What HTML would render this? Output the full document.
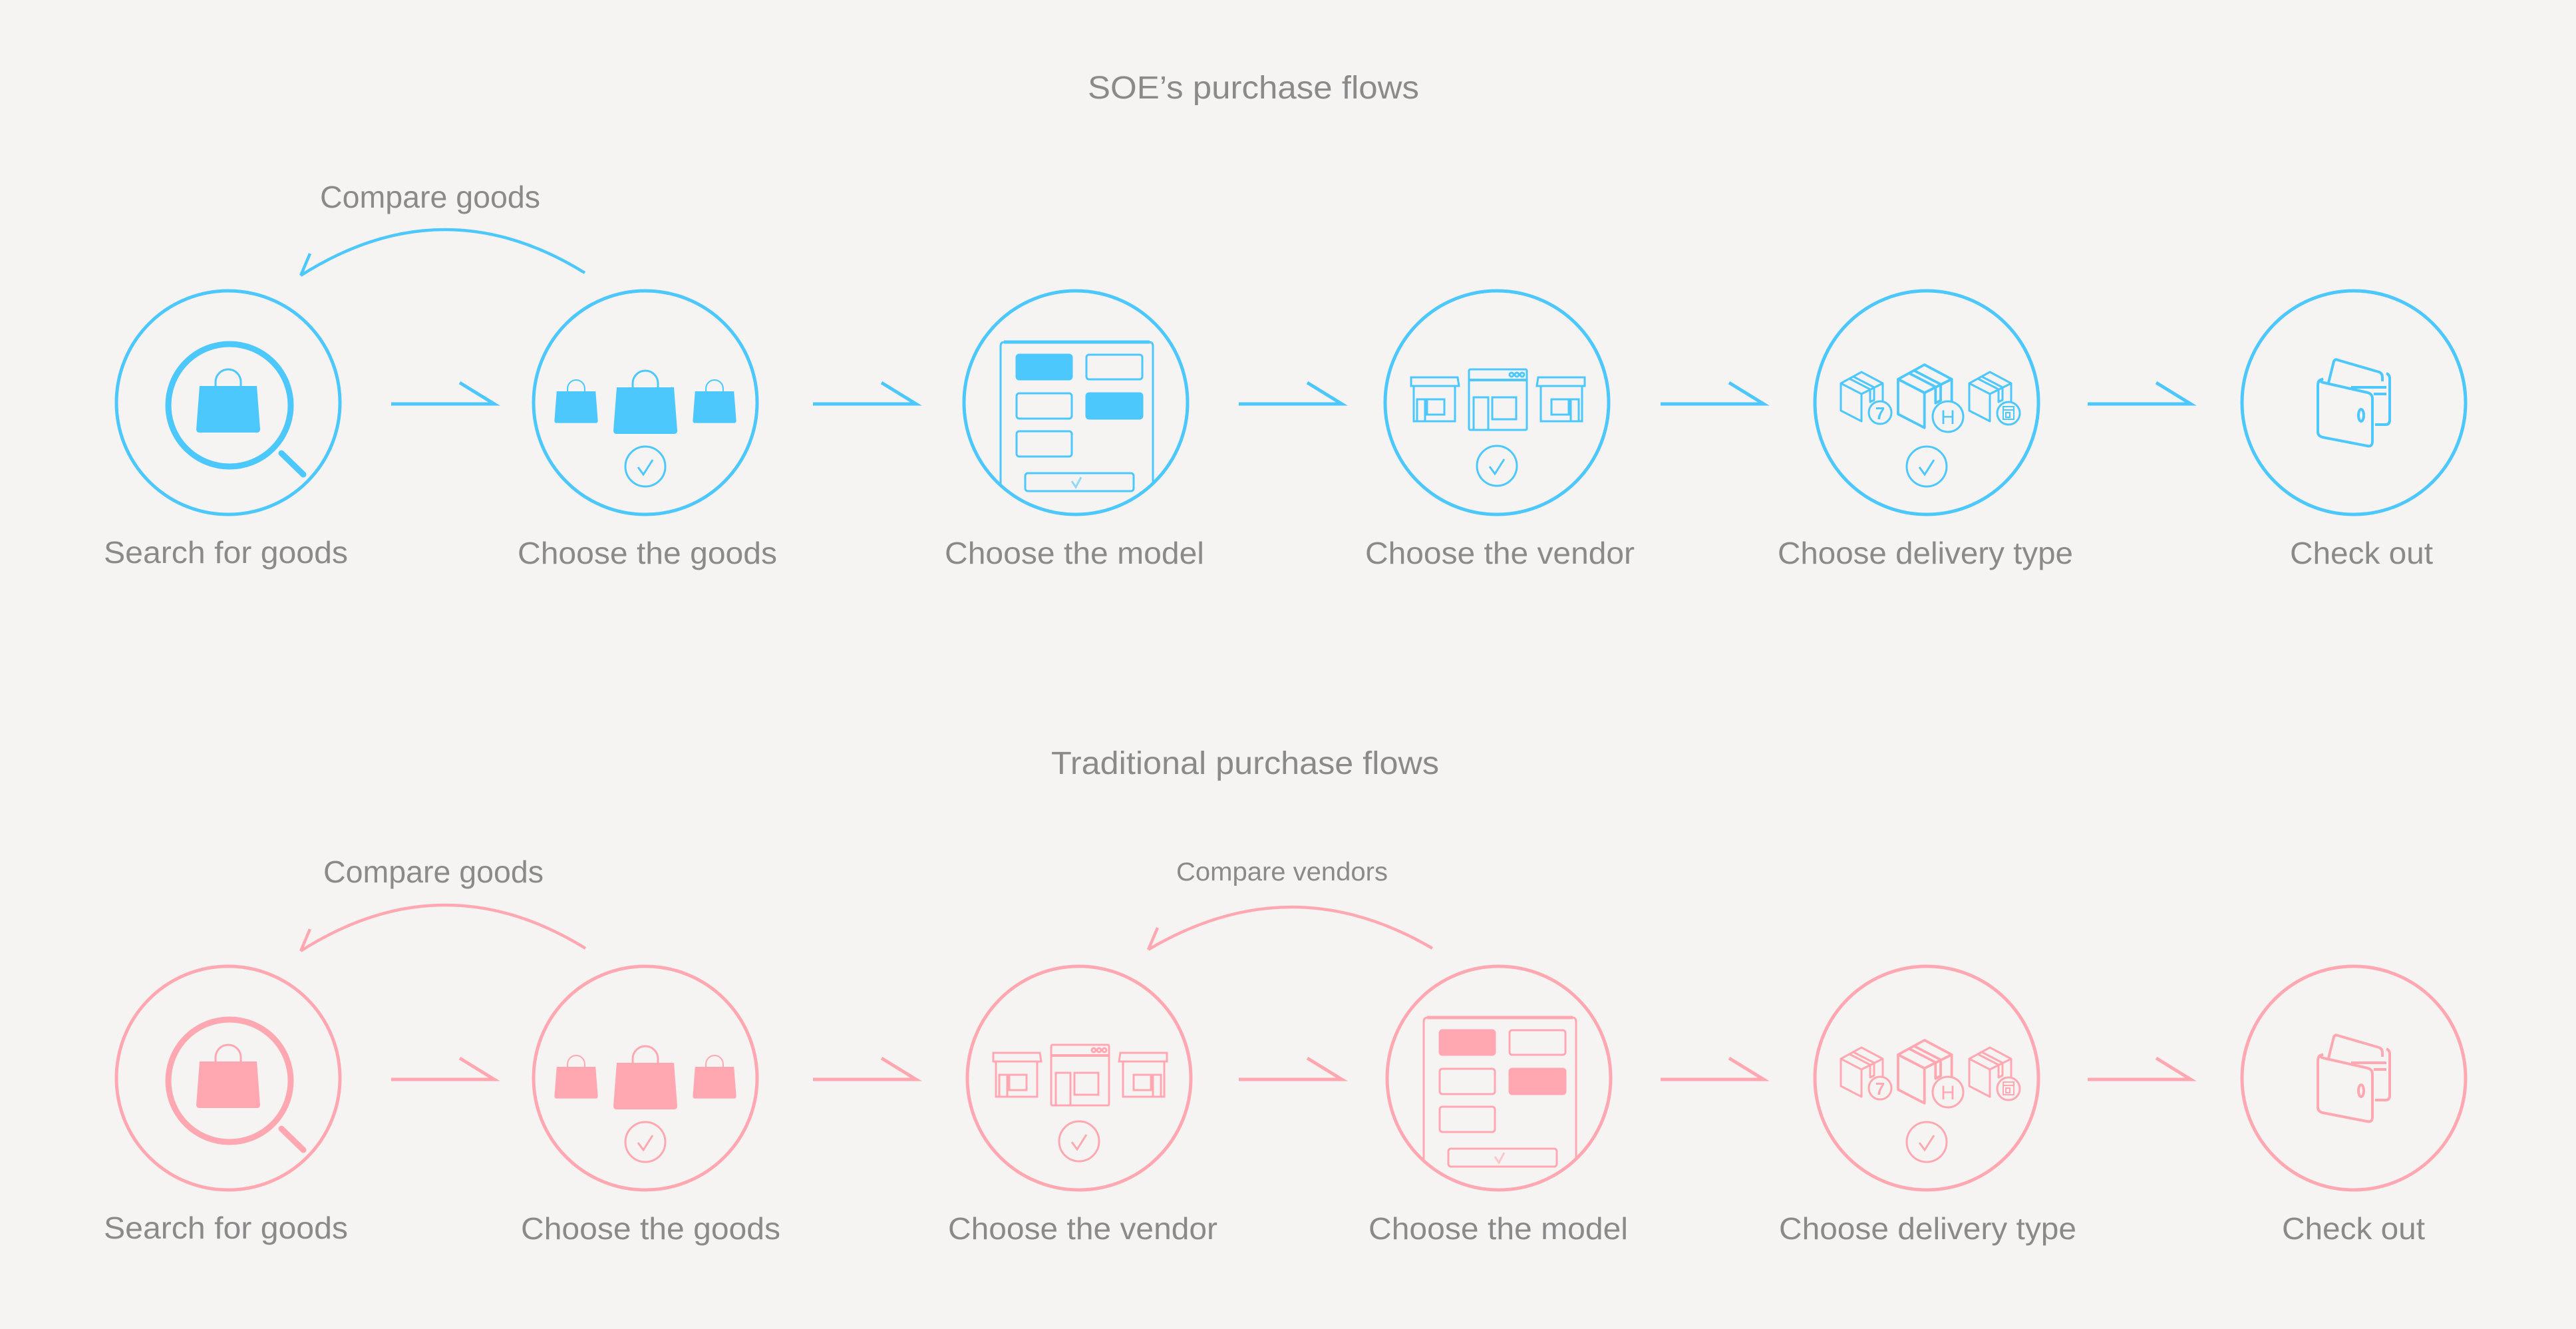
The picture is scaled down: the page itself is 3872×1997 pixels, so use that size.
<!DOCTYPE html>
<html><head><meta charset="utf-8"><style>
html,body{margin:0;padding:0;background:#f5f4f2;}
svg{display:block;}
text{font-family:"Liberation Sans",sans-serif;fill:#8a8a8a;}
</style></head><body>
<svg width="3872" height="1997" viewBox="0 0 3872 1997" xmlns="http://www.w3.org/2000/svg">
<defs>
<clipPath id="cc"><circle cx="0" cy="0" r="166"/></clipPath>
<g id="bag">
 <path d="M-43 0 H43 L48 65 Q48 70 43 70 H-43 Q-48 70 -48 65 Z" fill="currentColor" stroke="none"/>
 <path d="M-19 1 V-6 A19 19 0 0 1 19 -6 V1" fill="none" stroke="currentColor" stroke-width="3"/>
</g>
<g id="chk" fill="none" stroke="currentColor" stroke-width="3">
 <circle cx="0" cy="0" r="30"/>
 <path d="M-11 1 L-3 12 L11 -10"/>
</g>
<g id="search">
 <circle cx="0" cy="0" r="168" fill="none" stroke="currentColor" stroke-width="5"/>
 <circle cx="2" cy="4" r="92" fill="none" stroke="currentColor" stroke-width="9"/>
 <path d="M80 76 L113 108" stroke="currentColor" stroke-width="9" stroke-linecap="round"/>
 <use href="#bag" transform="translate(0,-25)"/>
</g>
<g id="goods">
 <circle cx="0" cy="0" r="168" fill="none" stroke="currentColor" stroke-width="5"/>
 <use href="#bag" transform="translate(0,-23)"/>
 <use href="#bag" transform="translate(-104,-17) scale(0.68)"/>
 <use href="#bag" transform="translate(104,-17) scale(0.68)"/>
 <use href="#chk" transform="translate(0,96)"/>
</g>
<g id="model">
 <circle cx="0" cy="0" r="168" fill="none" stroke="currentColor" stroke-width="5"/>
 <g clip-path="url(#cc)" fill="none" stroke="currentColor" stroke-width="3">
  <path d="M-113 170 V-85 Q-113 -91 -107 -91 H110 Q116 -91 116 -85 V170"/>
  <path d="M-108 -91 H111" stroke-width="5"/>
 </g>
 <g stroke="currentColor" stroke-width="3">
  <rect x="-89" y="-72" width="83" height="37" rx="4" fill="currentColor"/>
  <rect x="16" y="-72" width="84" height="37" rx="4" fill="none"/>
  <rect x="-89" y="-14" width="83" height="38" rx="4" fill="none"/>
  <rect x="16" y="-14" width="84" height="38" rx="4" fill="currentColor"/>
  <rect x="-89" y="43" width="83" height="38" rx="4" fill="none"/>
  <rect x="-76" y="106" width="163" height="27" rx="4" fill="none"/>
  <path d="M-6 118 L0 127 L8 112" fill="none" opacity="0.6"/>
 </g>
</g>
<g id="shop" fill="none" stroke="currentColor" stroke-width="3">
 <path d="M-36 -38 H34 L36 -25 H-36 Z"/>
 <path d="M-32 -25 V28 H30 V-25"/>
 <rect x="-27" y="-5" width="12" height="33"/>
 <rect x="-12" y="-5" width="26" height="23"/>
</g>
<g id="vendor">
 <circle cx="0" cy="0" r="168" fill="none" stroke="currentColor" stroke-width="5"/>
 <use href="#shop" transform="translate(-93,0)"/>
 <use href="#shop" transform="translate(96,0) scale(-1,1)"/>
 <g fill="none" stroke="currentColor" stroke-width="3">
  <rect x="-42" y="-50" width="87" height="91" rx="2"/>
  <path d="M-42 -34 H45" stroke-width="4"/>
  <circle cx="22" cy="-42" r="3"/><circle cx="30" cy="-42" r="3"/><circle cx="38" cy="-42" r="3"/>
  <rect x="-35" y="-8" width="22" height="49"/>
  <rect x="-7" y="-8" width="36" height="33"/>
 </g>
 <use href="#chk" transform="translate(0,95)"/>
</g>
<g id="box" fill="none" stroke="currentColor" stroke-width="3" stroke-linejoin="round">
 <path d="M31 0 L0 17 L31 33 L63 17 Z"/>
 <path d="M0 17 V58 L31 74 V33"/>
 <path d="M63 17 V56"/>
 <path d="M13 10 L44 26 M19 7 L50 23"/>
 <path d="M44 26 V45 L50 42 V23"/>
</g>
<g id="delivery">
 <circle cx="0" cy="0" r="168" fill="none" stroke="currentColor" stroke-width="5"/>
 <use href="#box" transform="translate(-129,-46)"/>
 <use href="#box" transform="translate(-43,-57) scale(1.28)"/>
 <use href="#box" transform="translate(64,-46)"/>
 <g fill="#f5f4f2" stroke="currentColor" stroke-width="3">
  <circle cx="-70" cy="15" r="17"/>
  <circle cx="32" cy="21" r="23"/>
  <circle cx="123" cy="16" r="17"/>
 </g>
 <text x="-70" y="25" text-anchor="middle" font-size="26" font-weight="bold" style="fill:currentColor">7</text>
 <text x="32" y="32" text-anchor="middle" font-size="30" style="fill:currentColor">H</text>
 <g fill="none" stroke="currentColor" stroke-width="2">
  <rect x="115" y="6" width="16" height="19"/><path d="M115 11 H131"/><rect x="119" y="15" width="6" height="7"/>
 </g>
 <use href="#chk" transform="translate(0,96)"/>
</g>
<g id="wallet">
 <circle cx="0" cy="0" r="168" fill="none" stroke="currentColor" stroke-width="5"/>
 <g fill="none" stroke="currentColor" stroke-width="4" stroke-linejoin="round">
  <path d="M-38 -30 L-30 -62 Q-28 -66 -24 -64 L38 -46 Q43 -44 43 -38 V-32"/>
  <path d="M49 -44 Q54 -42 54 -36 V26 Q54 33 48 33 H32"/>
  <path d="M-4 -23 H49 M30 -13 H49"/>
  <path d="M-46 -35 Q-54 -35 -54 -26 V44 Q-54 50 -47 52 L20 65 Q28 67 28 58 V-6 Q28 -13 21 -15 L-45 -30 Q-54 -32 -46 -36"/>
  <ellipse cx="11" cy="19" rx="4" ry="9"/>
 </g>
</g>
<g id="arrow" fill="none" stroke="currentColor" stroke-width="5">
 <path d="M0 0 H155 L103 -32"/>
</g>
</defs>

<!-- titles -->
<text x="1635" y="148" font-size="48" textLength="498" lengthAdjust="spacingAndGlyphs">SOE’s purchase flows</text>
<text x="1580" y="1163" font-size="48" textLength="583" lengthAdjust="spacingAndGlyphs">Traditional purchase flows</text>

<!-- TOP ROW -->
<g style="color:#4cc8fc">
 <use href="#search" transform="translate(343,605)"/>
 <use href="#goods" transform="translate(970,605)"/>
 <use href="#model" transform="translate(1617,605)"/>
 <use href="#vendor" transform="translate(2250,605)"/>
 <use href="#delivery" transform="translate(2896,605)"/>
 <use href="#wallet" transform="translate(3538,605)"/>
 <use href="#arrow" transform="translate(588,607)"/>
 <use href="#arrow" transform="translate(1222,607)"/>
 <use href="#arrow" transform="translate(1862,607)"/>
 <use href="#arrow" transform="translate(2496,607)"/>
 <use href="#arrow" transform="translate(3138,607)"/>
 <path d="M879 410 Q666 278 452 414 M452 414 L466 381" fill="none" stroke="currentColor" stroke-width="4.5"/>
</g>
<text x="481" y="312" font-size="46" textLength="331" lengthAdjust="spacingAndGlyphs">Compare goods</text>
<g font-size="46">
 <text x="156" y="846" textLength="367" lengthAdjust="spacingAndGlyphs">Search for goods</text>
 <text x="778" y="847" textLength="390" lengthAdjust="spacingAndGlyphs">Choose the goods</text>
 <text x="1420" y="847" textLength="390" lengthAdjust="spacingAndGlyphs">Choose the model</text>
 <text x="2052" y="847" textLength="405" lengthAdjust="spacingAndGlyphs">Choose the vendor</text>
 <text x="2672" y="847" textLength="444" lengthAdjust="spacingAndGlyphs">Choose delivery type</text>
 <text x="3442" y="847" textLength="215" lengthAdjust="spacingAndGlyphs">Check out</text>
</g>

<!-- BOTTOM ROW -->
<g style="color:#ffa8b1">
 <use href="#search" transform="translate(343,1620)"/>
 <use href="#goods" transform="translate(970,1620)"/>
 <use href="#vendor" transform="translate(1622,1620)"/>
 <use href="#model" transform="translate(2253,1620)"/>
 <use href="#delivery" transform="translate(2896,1620)"/>
 <use href="#wallet" transform="translate(3538,1620)"/>
 <use href="#arrow" transform="translate(588,1622)"/>
 <use href="#arrow" transform="translate(1222,1622)"/>
 <use href="#arrow" transform="translate(1862,1622)"/>
 <use href="#arrow" transform="translate(2496,1622)"/>
 <use href="#arrow" transform="translate(3138,1622)"/>
 <path d="M880 1425 Q666 1293 452 1429 M452 1429 L466 1396" fill="none" stroke="currentColor" stroke-width="4.5"/>
 <path d="M2153 1425 Q1940 1300 1726 1427 M1726 1427 L1740 1394" fill="none" stroke="currentColor" stroke-width="4.5"/>
</g>
<text x="486" y="1326" font-size="46" textLength="331" lengthAdjust="spacingAndGlyphs">Compare goods</text>
<text x="1768" y="1323" font-size="39" textLength="318" lengthAdjust="spacingAndGlyphs">Compare vendors</text>
<g font-size="46">
 <text x="156" y="1861" textLength="367" lengthAdjust="spacingAndGlyphs">Search for goods</text>
 <text x="783" y="1862" textLength="390" lengthAdjust="spacingAndGlyphs">Choose the goods</text>
 <text x="1425" y="1862" textLength="405" lengthAdjust="spacingAndGlyphs">Choose the vendor</text>
 <text x="2057" y="1862" textLength="390" lengthAdjust="spacingAndGlyphs">Choose the model</text>
 <text x="2674" y="1862" textLength="447" lengthAdjust="spacingAndGlyphs">Choose delivery type</text>
 <text x="3430" y="1862" textLength="215" lengthAdjust="spacingAndGlyphs">Check out</text>
</g>
</svg>
</body></html>
